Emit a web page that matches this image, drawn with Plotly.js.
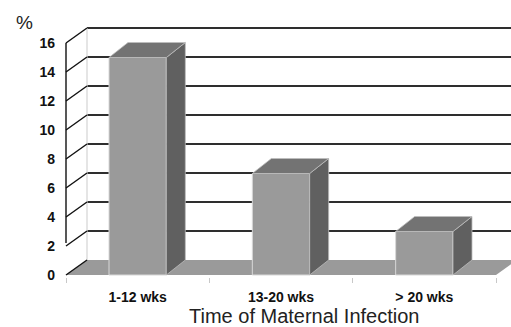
<!DOCTYPE html>
<html>
<head>
<meta charset="utf-8">
<script src="https://cdn.plot.ly/plotly-3.0.1.min.js"></script>
<style>html,body{margin:0;padding:0;background:#fff;}#chart{width:511px;height:327px;}</style>
</head>
<body>
<div id="chart"></div>
<script>
// ---- data ----
const categories = ['1-12 wks', '13-20 wks', '> 20 wks'];
const values = [15, 7, 3];
const yTickVals = [0, 2, 4, 6, 8, 10, 12, 14, 16];
const yTickText = ['0', '2', '4', '6', '8', '10', '12', '14', '16'];
const xTitle = 'Time of Maternal Infection';
const yUnit = '%';

// ---- geometry (pixels) ----
const W = 511, H = 327;
const M = {l: 60, r: 0, t: 26, b: 50};
const frontLeftPx = 66, frontRightPx = 496;   // front plane x extent
const zeroPx = 275, topPx = 43;               // front plane y of 0 and 16
const catPx = (frontRightPx - frontLeftPx) / categories.length;
const unitPx = (zeroPx - topPx) / 16;
const xr = [-0.5 - (frontLeftPx - M.l) / catPx, -0.5 + (W - M.r - frontLeftPx) / catPx];
const yr = [-(H - M.b - zeroPx) / unitPx, (zeroPx - M.t) / unitPx];
const dxW = 21 / catPx, dyW = 15 / unitPx;    // wall depth
const dxB = 19 / catPx, dyB = 15 / unitPx;    // bar depth
const barW = 0.4;
const xs = categories.map((c, i) => i);

const traces = [];
// floor
traces.push({
  type: 'scatter', mode: 'lines', xaxis: 'x', yaxis: 'y',
  x: [-0.5, 2.5, 2.5 + dxW, -0.5 + dxW, -0.5],
  y: [0, 0, dyW, dyW, 0],
  fill: 'toself', fillcolor: '#9a9a9a', line: {width: 0}, hoverinfo: 'skip'
});
// back wall gridlines
{
  const gx = [], gy = [];
  yTickVals.filter(v => v > 0).forEach(v => {
    gx.push(-0.5 + dxW, xr[1] + 1, null);
    gy.push(v + dyW, v + dyW, null);
  });
  traces.push({type: 'scatter', mode: 'lines', xaxis: 'x', yaxis: 'y', x: gx, y: gy,
    line: {color: '#2e2e2e', width: 1.8}, hoverinfo: 'skip'});
}
// back wall left edge
traces.push({type: 'scatter', mode: 'lines', xaxis: 'x', yaxis: 'y',
  x: [-0.5 + dxW, -0.5 + dxW], y: [dyW, 16 + dyW],
  line: {color: '#d4d4d4', width: 1.2}, hoverinfo: 'skip'});
// side wall diagonal lines
{
  const dx = [], dy = [];
  yTickVals.forEach(v => {
    dx.push(-0.5, -0.5 + dxW, null);
    dy.push(v, v + dyW, null);
  });
  traces.push({type: 'scatter', mode: 'lines', xaxis: 'x', yaxis: 'y', x: dx, y: dy,
    line: {color: '#111', width: 1.4}, hoverinfo: 'skip'});
}
// front axis line
traces.push({type: 'scatter', mode: 'lines', xaxis: 'x', yaxis: 'y',
  x: [-0.5, -0.5], y: [2.2, 16],
  line: {color: '#111', width: 1.4}, hoverinfo: 'skip'});

// bars (overlay subplot)
traces.push({
  type: 'bar', xaxis: 'x2', yaxis: 'y2', x: xs, y: values, width: barW,
  marker: {color: '#9a9a9a', line: {color: '#d8d8d8', width: 1}}, hoverinfo: 'skip'
});
values.forEach((v, i) => {
  const l = i - barW / 2, r = i + barW / 2;
  // side face
  traces.push({type: 'scatter', mode: 'lines', xaxis: 'x2', yaxis: 'y2',
    x: [r, r, r + dxB, r + dxB, r], y: [0, v, v + dyB, dyB, 0],
    fill: 'toself', fillcolor: '#606060', line: {color: '#bdbdbd', width: 0.8}, hoverinfo: 'skip'});
  // top face
  traces.push({type: 'scatter', mode: 'lines', xaxis: 'x2', yaxis: 'y2',
    x: [l, r, r + dxB, l + dxB, l], y: [v, v, v + dyB, v + dyB, v],
    fill: 'toself', fillcolor: '#737373', line: {color: '#bdbdbd', width: 0.8}, hoverinfo: 'skip'});
});

const font = 'Liberation Sans, Arial, sans-serif';
const layout = {
  width: W, height: H, margin: M,
  paper_bgcolor: '#fff', plot_bgcolor: '#fff',
  showlegend: false, bargap: 0,
  font: {family: font, color: '#111'},
  xaxis: {
    range: xr, tickvals: xs, ticktext: categories, ticks: 'outside', ticklen: 7,
    tickcolor: 'rgba(0,0,0,0)', showgrid: false, zeroline: false, showline: false,
    tickfont: {family: font, size: 14, weight: 'bold', color: '#111'}, fixedrange: true
  },
  yaxis: {
    range: yr, tickvals: yTickVals, ticktext: yTickText, ticks: '', ticklabelstandoff: 4,
    showgrid: false, zeroline: false, showline: false,
    tickfont: {family: font, size: 14, weight: 'bold', color: '#111'}, fixedrange: true
  },
  xaxis2: {
    overlaying: 'x', anchor: 'y2', range: xr,
    tickvals: [-0.5, 0.5, 1.5, 2.5], ticks: 'outside', ticklen: 5, tickcolor: '#c8c8c8', tickwidth: 1,
    showticklabels: false, showgrid: false, zeroline: false, showline: false, fixedrange: true
  },
  yaxis2: {overlaying: 'y', anchor: 'x2', range: yr, visible: false, fixedrange: true},
  annotations: [
    {text: xTitle, xref: 'paper', yref: 'paper', x: (304 - M.l) / (W - M.l - M.r),
     y: -(316 - (H - M.b)) / (H - M.t - M.b), xanchor: 'center', yanchor: 'middle',
     showarrow: false, font: {family: font, size: 20, color: '#222'}},
    {text: yUnit, xref: 'paper', yref: 'paper', x: (24 - M.l) / (W - M.l - M.r),
     y: ((H - M.b) - 22) / (H - M.t - M.b), xanchor: 'center', yanchor: 'middle',
     showarrow: false, font: {family: font, size: 19, color: '#222'}}
  ]
};
Plotly.newPlot('chart', traces, layout, {staticPlot: true, displayModeBar: false});
</script>
</body>
</html>
